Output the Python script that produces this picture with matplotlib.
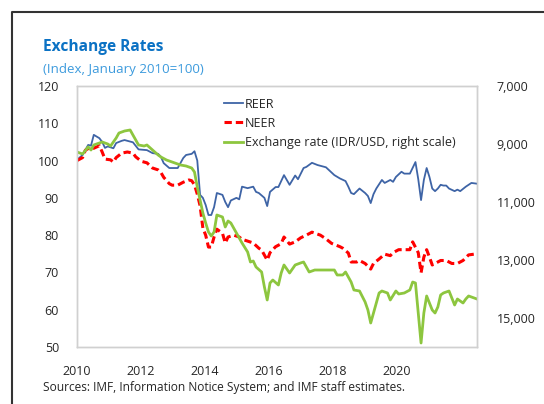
import matplotlib
matplotlib.use("Agg")
import matplotlib.pyplot as plt
from matplotlib.lines import Line2D
from matplotlib.ticker import FuncFormatter, FixedLocator

plt.rcParams['font.family'] = ['Open Sans', 'DejaVu Sans']

# ---- data (months since Jan 2010) ----
reer_m = [0, 2, 4, 5, 6, 8, 9, 10, 11, 13, 14, 16, 17, 20, 22, 25, 27, 29, 30, 31, 33, 36,
          38, 39, 41, 42, 43, 44, 45, 46, 47, 48, 49, 50, 52, 53, 54, 55, 57, 58, 59, 61, 63,
          64, 65, 67, 68, 69, 71, 72, 74, 76, 78, 79, 81, 82, 84, 86, 89, 90, 92, 94, 96, 97,
          98, 99, 101, 103, 104, 105, 106, 107, 109, 110, 112, 113, 114, 116, 117, 119, 121,
          122, 123, 124, 125, 126, 127, 128, 129, 130, 131, 132, 133, 135, 136, 137, 139, 141, 143]
reer_v = [100.2, 101.5, 104.2, 104.0, 106.9, 106.0, 105.0, 103.4, 103.8, 103.3, 104.7, 105.3,
          105.5, 104.9, 103.0, 102.8, 102.0, 101.8, 101.0, 99.3, 98.0, 98.0, 100.7, 101.5, 101.8,
          102.5, 100.0, 90.8, 90.0, 88.1, 85.4, 85.4, 87.5, 91.3, 90.8, 88.9, 87.5, 89.3, 90.0,
          89.6, 93.0, 92.6, 93.0, 91.6, 91.3, 90.0, 87.8, 91.6, 92.9, 92.9, 96.1, 93.5, 96.0,
          95.0, 98.0, 98.3, 99.4, 98.8, 98.2, 97.5, 96.1, 95.2, 94.5, 93.0, 91.3, 91.0, 92.5,
          91.3, 90.5, 88.6, 91.0, 92.5, 94.8, 94.0, 94.8, 94.3, 95.6, 97.0, 96.5, 96.5, 99.6,
          95.0, 89.4, 94.8, 98.0, 95.6, 92.5, 91.8, 92.5, 93.5, 93.3, 93.3, 92.5, 91.8, 92.2,
          91.8, 93.0, 94.0, 93.8]

neer_m = [0, 2, 3, 5, 6, 8, 9, 10, 12, 13, 14, 16, 18, 20, 21, 23, 25, 27, 29, 30, 31, 33, 34,
          36, 38, 40, 41, 42, 43, 44, 45, 46, 47, 48, 49, 50, 52, 53, 54, 56, 58, 59, 61, 63, 65,
          66, 68, 69, 71, 73, 74, 76, 78, 80, 82, 84, 87, 89, 91, 94, 95, 97, 98, 100, 101, 103,
          105, 106, 108, 110, 112, 113, 115, 119, 120, 122, 123, 124, 125, 126, 127, 129, 130,
          132, 134, 136, 138, 140, 142, 143]
neer_v = [100.0, 100.8, 102.8, 103.6, 103.3, 104.0, 102.3, 100.4, 100.2, 99.6, 100.8, 102.0,
          102.3, 102.0, 101.0, 99.8, 99.4, 98.0, 97.5, 96.8, 95.5, 93.8, 93.4, 93.4, 94.2, 94.8,
          94.6, 93.5, 91.0, 87.9, 81.9, 80.0, 76.8, 76.8, 79.5, 81.6, 80.5, 77.9, 79.5, 80.0,
          79.5, 78.9, 78.4, 77.9, 76.5, 76.0, 73.3, 75.3, 76.9, 77.7, 79.5, 77.6, 78.2, 79.3,
          80.0, 80.8, 80.0, 79.0, 77.8, 76.9, 76.5, 75.2, 72.8, 72.8, 73.2, 72.4, 70.9, 72.4,
          73.6, 74.9, 74.5, 75.3, 76.1, 76.1, 78.2, 75.3, 69.9, 74.1, 76.1, 74.1, 72.0, 72.8,
          73.2, 73.2, 72.4, 72.4, 73.2, 74.7, 74.9, 74.9]

idr_m = [0, 2, 4, 5, 6, 9, 11, 12, 14, 15, 17, 19, 20, 22, 24, 25, 27, 29, 30, 32, 34, 37, 39,
         41, 42, 43, 45, 46, 47, 48, 49, 50, 52, 53, 54, 55, 57, 59, 61, 62, 63, 64, 66, 67, 68,
         69, 70, 72, 73, 74, 76, 78, 80, 81, 83, 85, 89, 92, 93, 95, 96, 98, 99, 101, 103, 104,
         105, 106, 107, 108, 109, 111, 112, 114, 115, 117, 119, 120, 121, 122, 123, 124, 125,
         126, 127, 128, 129, 130, 131, 133, 135, 136, 138, 139, 140, 143]
idr_v = [9276, 9345, 9100, 9207, 9034, 8931, 9000, 9069, 8793, 8621, 8552, 8517, 8690, 9034,
         9069, 9034, 9207, 9379, 9448, 9552, 9621, 9724, 9759, 9828, 9966, 10483, 11379, 11724,
         12034, 12172, 12034, 11448, 11517, 11862, 11655, 11724, 12069, 12414, 12724, 13069,
         13034, 13241, 13414, 13931, 14379, 13793, 13690, 13862, 13448, 13172, 13448, 13172,
         13100, 13069, 13414, 13345, 13345, 13345, 13517, 13517, 13414, 13759, 14034, 14069,
         14448, 14724, 15172, 14828, 14483, 14138, 14069, 14138, 14379, 14069, 14172, 14138,
         14034, 13759, 13793, 14828, 15862, 14828, 14241, 14483, 14724, 14828, 14621, 14207,
         14138, 14069, 14552, 14345, 14483, 14345, 14241, 14345]

year_labels = ['2010', '2012', '2014', '2016', '2018', '2020']
left_ticks = [50, 60, 70, 80, 90, 100, 110, 120]
right_ticks = [7000, 9000, 11000, 13000, 15000]

title = 'Exchange Rates'
subtitle = '(Index, January 2010=100)'
source = 'Sources: IMF, Information Notice System; and IMF staff estimates.'

# ---- styles ----
C_REER = '#3E64A6'
C_NEER = '#FF0000'
C_IDR = '#8DC63F'
C_TXT = '#262626'
C_SPINE = '#D0D0D0'

W, H = 544, 404
fig = plt.figure(figsize=(W / 100, H / 100), dpi=100)

ax = fig.add_axes([77 / W, 1 - 347 / H, 400 / W, 261 / H])
ax2 = ax.twinx()

ax.plot(reer_m, reer_v, color=C_REER, lw=1.3, label='REER', zorder=3)
ax.plot(neer_m, neer_v, color=C_NEER, lw=2.2, ls=(0, (2.4, 1.3)), label='NEER', zorder=3)
ax2.plot(idr_m, idr_v, color=C_IDR, lw=2.0, label='Exchange rate (IDR/USD, right scale)')

ax.set_xlim(0, 143)
ax.set_ylim(50, 120)
ax2.set_ylim(16000, 7000)

step = 64 / (400 / 143)
ax.xaxis.set_major_locator(FixedLocator([i * step for i in range(len(year_labels))]))
ax.set_xticklabels(year_labels)
ax.set_yticks(left_ticks)
ax2.set_yticks(right_ticks)
ax2.yaxis.set_major_formatter(FuncFormatter(lambda v, p: f'{int(v):,}'))

for a in (ax, ax2):
    for s in a.spines.values():
        s.set_color(C_SPINE)
        s.set_linewidth(1.0)
    a.tick_params(length=0, labelsize=9.0, colors=C_TXT)
ax.tick_params(axis='y', pad=13)
ax.tick_params(axis='x', pad=13)
ax2.tick_params(axis='y', pad=14)

handles = [Line2D([], [], color=C_REER, lw=1.3),
           Line2D([], [], color=C_NEER, lw=2.2, ls=(0, (2.4, 1.3))),
           Line2D([], [], color=C_IDR, lw=2.0)]
labels = ['REER', 'NEER', 'Exchange rate (IDR/USD, right scale)']
ax2.legend(handles, labels, loc='upper left', bbox_to_anchor=(0.355, 0.975),
           frameon=False, fontsize=9.0, handlelength=1.5, handletextpad=0.2,
           labelspacing=0.5, borderaxespad=0, labelcolor=C_TXT)

fig.text(43 / W, 1 - 47 / H, title, color='#0B72C4', fontsize=11.2, fontweight='bold',
         va='center', ha='left')
fig.text(43 / W, 1 - 69 / H, subtitle, color='#3D9BDD', fontsize=9.6, va='center', ha='left')
fig.text(43 / W, 1 - 387 / H, source, color=C_TXT, fontsize=8.6, va='center', ha='left')

# outer frame (top and left edges visible)
fig.add_artist(Line2D([12 / W, 12 / W, 1.0], [0.0, 1 - 12 / H, 1 - 12 / H],
                      color='#333333', lw=1.5, transform=fig.transFigure))

fig.savefig('out.png', dpi=100)
